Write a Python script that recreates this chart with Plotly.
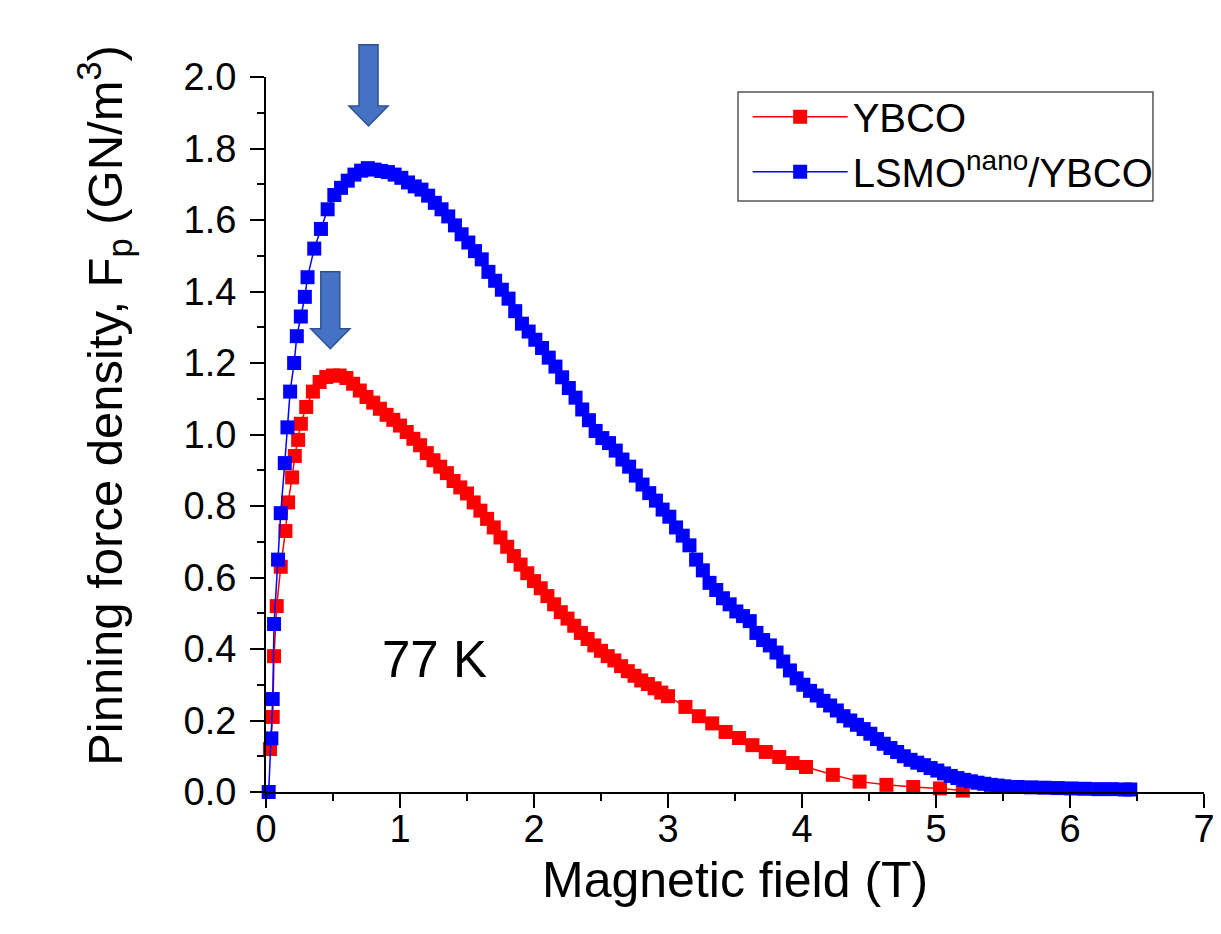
import plotly.graph_objects as go

# ---------------- data ----------------
ybco_field = [0.03, 0.05, 0.06, 0.08, 0.11, 0.145, 0.165, 0.195, 0.215, 0.24, 0.26,
              0.30, 0.35, 0.40, 0.45, 0.50, 0.55, 0.60, 0.65, 0.70, 0.75, 0.80, 0.85,
              0.90, 0.95, 1.00, 1.05, 1.10, 1.15, 1.20, 1.25, 1.30, 1.35, 1.40, 1.45,
              1.50, 1.55, 1.60, 1.65, 1.70, 1.75, 1.80, 1.85, 1.90, 1.95, 2.00, 2.05,
              2.10, 2.15, 2.20, 2.25, 2.30, 2.35, 2.40, 2.45, 2.50, 2.55, 2.60, 2.65,
              2.70, 2.75, 2.80, 2.85, 2.90, 2.95, 3.00, 3.13, 3.23, 3.33, 3.43, 3.53,
              3.63, 3.73, 3.83, 3.93, 4.03, 4.23, 4.43, 4.63, 4.83, 5.03, 5.20]
ybco_fp = [0.12, 0.21, 0.38, 0.52, 0.63, 0.73, 0.81, 0.88, 0.94, 0.985, 1.03,
           1.077, 1.12, 1.147, 1.161, 1.165, 1.165, 1.158, 1.142, 1.123, 1.105, 1.089, 1.072,
           1.055, 1.041, 1.025, 1.007, 0.988, 0.970, 0.948, 0.928, 0.910, 0.892, 0.870, 0.852,
           0.835, 0.810, 0.787, 0.764, 0.740, 0.712, 0.686, 0.660, 0.636, 0.612, 0.590, 0.570,
           0.548, 0.525, 0.503, 0.485, 0.465, 0.445, 0.428, 0.410, 0.395, 0.380, 0.368, 0.352,
           0.338, 0.325, 0.312, 0.302, 0.290, 0.278, 0.268, 0.238, 0.212, 0.192, 0.168, 0.151,
           0.131, 0.112, 0.098, 0.081, 0.070, 0.048, 0.029, 0.020, 0.014, 0.010, 0.004]

lsmo_field = [0.02, 0.04, 0.05, 0.06, 0.09, 0.11, 0.14, 0.16, 0.18, 0.21, 0.23, 0.26,
              0.29, 0.31, 0.36, 0.41, 0.46, 0.51, 0.56, 0.61, 0.66, 0.71, 0.76, 0.81,
              0.86, 0.91, 0.96, 1.01, 1.06, 1.11, 1.16, 1.21, 1.26, 1.31, 1.36, 1.41,
              1.46, 1.51, 1.56, 1.61, 1.66, 1.71, 1.76, 1.81, 1.86, 1.91, 1.96, 2.01,
              2.06, 2.11, 2.16, 2.21, 2.26, 2.31, 2.36, 2.41, 2.46, 2.51, 2.56, 2.61,
              2.66, 2.71, 2.76, 2.81, 2.86, 2.91, 2.96, 3.01, 3.06, 3.11, 3.16, 3.21,
              3.26, 3.31, 3.36, 3.41, 3.46, 3.51, 3.56, 3.61, 3.66, 3.71, 3.76, 3.81,
              3.86, 3.91, 3.96, 4.01, 4.06, 4.11, 4.16, 4.21, 4.26, 4.31, 4.36, 4.41,
              4.46, 4.51, 4.56, 4.61, 4.66, 4.71, 4.76, 4.81, 4.86, 4.91, 4.96, 5.01,
              5.06, 5.11, 5.16, 5.21, 5.26, 5.31, 5.36, 5.41, 5.46, 5.51, 5.61, 5.71,
              5.81, 5.91, 6.01, 6.11, 6.21, 6.31, 6.41, 6.45]
lsmo_fp = [0.00, 0.15, 0.26, 0.47, 0.65, 0.78, 0.92, 1.02, 1.12, 1.20, 1.275, 1.33,
           1.385, 1.44, 1.52, 1.575, 1.63, 1.67, 1.69, 1.71, 1.727, 1.738, 1.745, 1.741,
           1.737, 1.734, 1.727, 1.718, 1.705, 1.694, 1.685, 1.668, 1.648, 1.630, 1.610, 1.585,
           1.560, 1.537, 1.513, 1.490, 1.455, 1.430, 1.405, 1.380, 1.345, 1.310, 1.288, 1.265,
           1.242, 1.215, 1.190, 1.160, 1.130, 1.103, 1.070, 1.040, 1.010, 0.990, 0.976, 0.955,
           0.930, 0.910, 0.885, 0.860, 0.836, 0.815, 0.790, 0.770, 0.740, 0.717, 0.690, 0.650,
           0.620, 0.585, 0.565, 0.542, 0.525, 0.505, 0.492, 0.478, 0.445, 0.425, 0.410, 0.390,
           0.365, 0.340, 0.318, 0.300, 0.283, 0.270, 0.255, 0.242, 0.228, 0.212, 0.200, 0.188,
           0.176, 0.163, 0.148, 0.135, 0.123, 0.112, 0.100, 0.090, 0.082, 0.075, 0.067, 0.060,
           0.052, 0.045, 0.039, 0.034, 0.030, 0.026, 0.023, 0.020, 0.018, 0.016, 0.014, 0.013,
           0.012, 0.011, 0.010, 0.009, 0.008, 0.008, 0.007, 0.007]

series_names = ["YBCO", "LSMO<sup>nano</sup>/YBCO"]
x_ticks = [0, 1, 2, 3, 4, 5, 6, 7]
y_ticks = [0.0, 0.2, 0.4, 0.6, 0.8, 1.0, 1.2, 1.4, 1.6, 1.8, 2.0]
y_tick_text = ["%.1f" % v for v in y_ticks]
# block arrows marking the peaks: (field position, tip value, top value)
arrows = [(0.765, 1.863, 2.09), (0.48, 1.24, 1.455)]
annotation_text = "77 K"

FONT = "Liberation Sans, Arial, sans-serif"
X_RANGE = [0, 7]
Y_RANGE = [0, 2.0]

fig = go.Figure()
fig.add_trace(go.Scatter(
    x=ybco_field, y=ybco_fp, mode="lines+markers", name=series_names[0],
    line=dict(color="#ff0000", width=1.5),
    marker=dict(symbol="square", size=14, color="#ff0000", line=dict(width=0)),
    cliponaxis=False))
fig.add_trace(go.Scatter(
    x=lsmo_field, y=lsmo_fp, mode="lines+markers", name=series_names[1],
    line=dict(color="#0000ff", width=1.5),
    marker=dict(symbol="square", size=14, color="#0000ff", line=dict(width=0)),
    cliponaxis=False))

# block arrows (x in data, y in paper units of the 0..2 axis)
shaft_half, head_half, head_len = 0.071, 0.146, 0.056
for xc, tip, top in arrows:
    base = tip + head_len
    yp = lambda v: v / (Y_RANGE[1] - Y_RANGE[0])
    path = (f"M {xc-shaft_half},{yp(top)} L {xc+shaft_half},{yp(top)} "
            f"L {xc+shaft_half},{yp(base)} L {xc+head_half},{yp(base)} "
            f"L {xc},{yp(tip)} L {xc-head_half},{yp(base)} "
            f"L {xc-shaft_half},{yp(base)} Z")
    fig.add_shape(type="path", path=path, xref="x", yref="paper",
                  fillcolor="#4472C4", line=dict(color="#2F528F", width=1.5),
                  layer="above")

# legend frame
fig.add_shape(type="rect", xref="paper", yref="paper",
              x0=0.5032, x1=0.9456, y0=0.8266, y1=0.979,
              line=dict(color="#555555", width=1.5), fillcolor="rgba(0,0,0,0)",
              layer="above")

fig.add_annotation(x=1.26, y=0.37, xref="x", yref="y", text=annotation_text,
                   showarrow=False, xanchor="center", yanchor="middle",
                   font=dict(family=FONT, size=51, color="black"))

fig.add_annotation(x=-0.172, y=0.541, xref="paper", yref="paper",
                   text="Pinning force density, F<sub>p</sub> (GN/m<sup>3</sup>)",
                   textangle=-90, showarrow=False, xanchor="center", yanchor="middle",
                   font=dict(family=FONT, size=49, color="black"))
fig.add_annotation(x=0.5, y=-0.123, xref="paper", yref="paper",
                   text="Magnetic field (T)", showarrow=False,
                   xanchor="center", yanchor="middle",
                   font=dict(family=FONT, size=50, color="black"))

axis_common = dict(
    showline=True, linecolor="black", linewidth=2,
    ticks="outside", ticklen=14, tickwidth=2, tickcolor="black",
    showgrid=False, zeroline=False, ticklabeloverflow="allow", automargin=False,
    tickfont=dict(family=FONT, size=38, color="black"),
)
fig.update_xaxes(range=X_RANGE, tickvals=x_ticks, ticklabelstandoff=-12,
                 minor=dict(dtick=0.5, ticks="outside", ticklen=7, tickwidth=2,
                            tickcolor="black"),
                 **axis_common)
fig.update_yaxes(range=Y_RANGE, tickvals=y_ticks, ticktext=y_tick_text,
                 ticklabelstandoff=6,
                 minor=dict(dtick=0.1, ticks="outside", ticklen=7, tickwidth=2,
                            tickcolor="black"),
                 **axis_common)

fig.update_layout(
    width=1213, height=918,
    margin=dict(l=258, r=17, t=69, b=134),
    paper_bgcolor="white", plot_bgcolor="white",
    showlegend=True,
    legend=dict(x=0.5135, y=0.99, xanchor="left", yanchor="top",
                borderwidth=0, bgcolor="rgba(0,0,0,0)",
                font=dict(family=FONT, size=40, color="black"),
                itemwidth=95, tracegroupgap=0),
)

fig.write_html("out.html")
